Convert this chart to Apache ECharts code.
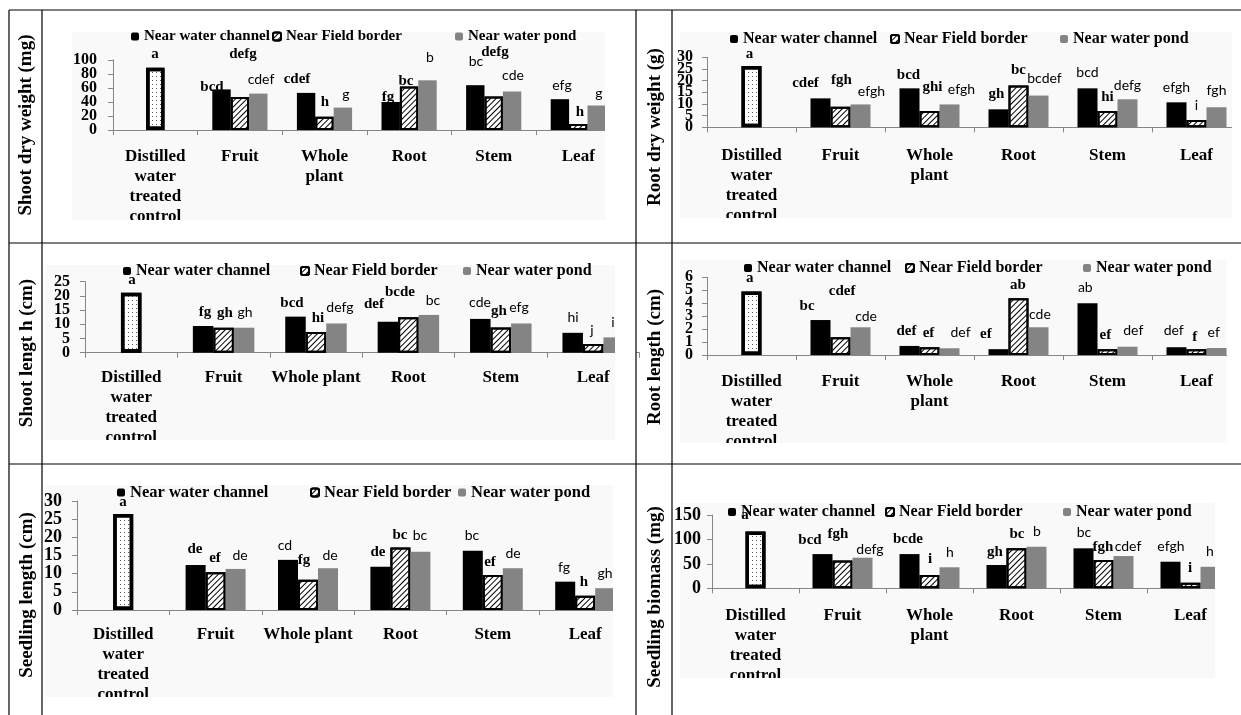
<!DOCTYPE html>
<html>
<head>
<meta charset="utf-8">
<script src="https://cdn.jsdelivr.net/npm/echarts@6/dist/echarts.min.js"></script>
<style>
  html, body { margin: 0; padding: 0; background: #fff; }
  #main { width: 1241px; height: 715px; }
</style>
</head>
<body>
<div id="main"></div>
<script>
// ---- categories and series names ----
const categoriesTwoLine = ['Distilled\nwater\ntreated\ncontrol', 'Fruit', 'Whole\nplant', 'Root', 'Stem', 'Leaf'];
const categoriesOneLine = ['Distilled\nwater\ntreated\ncontrol', 'Fruit', 'Whole plant', 'Root', 'Stem', 'Leaf'];
const seriesNames = ['Near water channel', 'Near Field border', 'Near water pond'];

// ---- Shoot dry weight (mg) ----
const shootDryTicks   = [0, 20, 40, 60, 80, 100];
const shootDryChannel = [null, 58, 53, 40, 64, 44];
const shootDryBorder  = [89, 47, 19, 62, 48, 8.5];
const shootDryPond    = [null, 52, 32, 71, 55, 35];
const shootDryChannelLetters = ['', 'bcd', 'cdef', 'fg', 'bc', 'efg'];
const shootDryBorderLetters  = ['a', 'defg', 'h', 'bc', 'defg', 'h'];
const shootDryPondLetters    = ['', 'cdef', 'g', 'b', 'cde', 'g'];

// ---- Root dry weight (g) ----
const rootDryTicks   = [0, 5, 10, 15, 20, 25, 30];
const rootDryChannel = [null, 12.4, 16.7, 7.7, 16.7, 10.7];
const rootDryBorder  = [26.3, 8.8, 7, 17.9, 7, 3.1];
const rootDryPond    = [null, 9.8, 9.8, 13.6, 12, 8.6];
const rootDryChannelLetters = ['', 'cdef', 'bcd', 'gh', 'bcd', 'efgh'];
const rootDryBorderLetters  = ['a', 'fgh', 'ghi', 'bc', 'hi', 'i'];
const rootDryPondLetters    = ['', 'efgh', 'efgh', 'bcdef', 'defg', 'fgh'];

// ---- Shoot length (cm) ----
const shootLenTicks   = [0, 5, 10, 15, 20, 25];
const shootLenChannel = [null, 9.4, 12.7, 10.9, 11.9, 7.0];
const shootLenBorder  = [21.1, 8.8, 7.3, 12.5, 8.9, 3.1];
const shootLenPond    = [null, 8.8, 10.3, 13.3, 10.3, 5.4];
const shootLenChannelLetters = ['', 'fg', 'bcd', 'def', 'cde', 'hi'];
const shootLenBorderLetters  = ['a', 'gh', 'hi', 'bcde', 'gh', 'j'];
const shootLenPondLetters    = ['', 'gh', 'defg', 'bc', 'efg', 'i'];

// ---- Root length (cm) ----
const rootLenTicks   = [0, 1, 2, 3, 4, 5, 6];
const rootLenChannel = [null, 2.7, 0.7, 0.45, 4.0, 0.6];
const rootLenBorder  = [4.9, 1.37, 0.6, 4.38, 0.45, 0.44];
const rootLenPond    = [null, 2.14, 0.52, 2.14, 0.64, 0.54];
const rootLenChannelLetters = ['', 'bc', 'def', 'ef', 'ab', 'def'];
const rootLenBorderLetters  = ['a', 'cdef', 'ef', 'ab', 'ef', 'f'];
const rootLenPondLetters    = ['', 'cde', 'def', 'cde', 'def', 'ef'];

// ---- Seedling length (cm) ----
const seedLenTicks   = [0, 5, 10, 15, 20, 25, 30];
const seedLenChannel = [null, 12.4, 13.8, 11.9, 16.3, 7.8];
const seedLenBorder  = [26.4, 10.4, 8.3, 17.2, 9.6, 3.9];
const seedLenPond    = [null, 11.3, 11.5, 16, 11.5, 6.0];
const seedLenChannelLetters = ['', 'de', 'cd', 'de', 'bc', 'fg'];
const seedLenBorderLetters  = ['a', 'ef', 'fg', 'bc', 'ef', 'h'];
const seedLenPondLetters    = ['', 'de', 'de', 'bc', 'de', 'gh'];

// ---- Seedling biomass (mg) ----
const biomassTicks   = [0, 50, 100, 150];
const biomassChannel = [null, 70, 70, 47.7, 81.8, 54.4];
const biomassBorder  = [116, 57, 27, 81.8, 58, 11.5];
const biomassPond    = [null, 62.6, 43, 85, 66, 44];
const biomassChannelLetters = ['', 'bcd', 'bcde', 'gh', 'bc', 'efgh'];
const biomassBorderLetters  = ['a', 'fgh', 'i', 'bc', 'fgh', 'i'];
const biomassPondLetters    = ['', 'defg', 'h', 'b', 'cdef', 'h'];

// ---- panel definitions (data references) ----
const panels = [
  { title: 'Shoot dry weight (mg)', cats: categoriesTwoLine, ticks: shootDryTicks,
    values: [shootDryChannel, shootDryBorder, shootDryPond],
    letters: [shootDryChannelLetters, shootDryBorderLetters, shootDryPondLetters] },
  { title: 'Root dry weight (g)', cats: categoriesTwoLine, ticks: rootDryTicks,
    values: [rootDryChannel, rootDryBorder, rootDryPond],
    letters: [rootDryChannelLetters, rootDryBorderLetters, rootDryPondLetters] },
  { title: 'Shoot lengt h (cm)', cats: categoriesOneLine, ticks: shootLenTicks,
    values: [shootLenChannel, shootLenBorder, shootLenPond],
    letters: [shootLenChannelLetters, shootLenBorderLetters, shootLenPondLetters] },
  { title: 'Root length (cm)', cats: categoriesTwoLine, ticks: rootLenTicks,
    values: [rootLenChannel, rootLenBorder, rootLenPond],
    letters: [rootLenChannelLetters, rootLenBorderLetters, rootLenPondLetters] },
  { title: 'Seedling length (cm)', cats: categoriesOneLine, ticks: seedLenTicks,
    values: [seedLenChannel, seedLenBorder, seedLenPond],
    letters: [seedLenChannelLetters, seedLenBorderLetters, seedLenPondLetters] },
  { title: 'Seedling biomass (mg)', cats: categoriesTwoLine, ticks: biomassTicks,
    values: [biomassChannel, biomassBorder, biomassPond],
    letters: [biomassChannelLetters, biomassBorderLetters, biomassPondLetters] }
];
panels.forEach(P => {
  P.yMax = P.ticks[P.ticks.length - 1];
  P.yStep = P.ticks[1] - P.ticks[0];
});

// ---- layout: plot rectangles, picture frames, table cells, titles, legends ----
const panelLayout = [
  { grid: { left: 113, top: 60, width: 507.6, height: 70 }, barW: 18.4, yFont: 16, yMargin: 16, xMargin: 17,
    frame: [72, 32, 605, 220], cell: [42, 10, 636, 243], title: [26, 125],
    legendFont: 15, legend: [[131, 38], [272, 38], [455, 38]] },
  { grid: { left: 707, top: 57.3, width: 540, height: 70 }, barW: 20, yFont: 16, yMargin: 14, xMargin: 18,
    frame: [680, 32, 1232, 218], cell: [672, 10, 1241, 243], title: [655, 127],
    legendFont: 16, legend: [[730, 40], [890, 40], [1060, 40]] },
  { grid: { left: 85, top: 281.7, width: 554.4, height: 71 }, barW: 20.5, yFont: 16, yMargin: 15, xMargin: 15,
    frame: [45, 265, 615, 440], cell: [42, 243, 636, 464], title: [27, 353],
    legendFont: 16, legend: [[123, 272], [300, 272], [463, 272]] },
  { grid: { left: 707, top: 277.3, width: 537.6, height: 77.7 }, barW: 20, yFont: 16, yMargin: 14, xMargin: 17,
    frame: [680, 260, 1227, 443], cell: [672, 243, 1241, 464], title: [655, 357],
    legendFont: 16, legend: [[744, 269], [905, 269], [1083, 269]] },
  { grid: { left: 77, top: 501, width: 554.4, height: 109 }, barW: 20, yFont: 18, yMargin: 15, xMargin: 15,
    frame: [45, 485, 613, 697], cell: [42, 464, 636, 715], title: [27, 595],
    legendFont: 16.5, legend: [[117, 493], [310, 493], [458, 493]] },
  { grid: { left: 712, top: 515, width: 522, height: 73.3 }, barW: 20, yFont: 18, yMargin: 11, xMargin: 17,
    frame: [680, 503, 1215, 678], cell: [672, 464, 1241, 715], title: [655, 597],
    legendFont: 16, legend: [[728, 513], [885, 513], [1063, 513]] }
];

// where each significance letter sits (page pixels), per panel / series / category
const letterSpots = [
  [[null, [212, 87], [297, 79], [388, 97], [476, 61], [562, 85]],
   [[155, 54], [243, 54], [325, 102], [406, 81], [495, 52], [580, 112]],
   [null, [261, 79], [346, 94], [430, 57], [513, 75], [599, 93]]],
  [[null, [807, 83], [911, 75], [1000, 94], [1092, 72], [1182, 87]],
   [[750, 54], [843, 80], [935, 87], [1022, 70], [1112, 97], [1202, 105]],
   [null, [873, 91], [964, 89], [1048, 78], [1132, 85], [1222, 90]]],
  [[null, [205, 312], [292, 303], [374, 304], [480, 302], [573, 317]],
   [[132, 280], [225, 313], [318, 318], [400, 292], [499, 311], [592, 330]],
   [null, [245, 312], [340, 307], [433, 300], [519, 307], [613, 322]]],
  [[null, [808, 306], [908, 331], [988, 334], [1088, 287], [1177, 330]],
   [[750, 278], [843, 291], [930, 333], [1020, 285], [1108, 335], [1198, 337]],
   [null, [867, 316], [962, 332], [1042, 314], [1136, 330], [1217, 332]]],
  [[null, [195, 549], [285, 545], [378, 552], [472, 535], [564, 567]],
   [[123, 502], [215, 558], [304, 560], [400, 535], [490, 562], [584, 582]],
   [null, [240, 555], [330, 555], [420, 535], [513, 553], [605, 573]]],
  [[null, [810, 540], [908, 539], [995, 552], [1084, 532], [1171, 546]],
   [[745, 515], [838, 534], [930, 559], [1017, 534], [1103, 547], [1190, 568]],
   [null, [870, 549], [950, 552], [1037, 531], [1128, 546], [1210, 551]]]
];
// typeface of each letter: T = bold serif, C = plain sans
const letterFaces = [
  ['-TTTCC', 'TTTTTT', '-CCCCC'],
  ['-TTTCC', 'TTTTTC', '-CCCCC'],
  ['-TTTCC', 'TTTTTC', '-CCCCC'],
  ['-TTTCC', 'TTTTTT', '-CCCCC'],
  ['-TCTCC', 'TTTTTT', '-CCCCC'],
  ['-TTTCC', 'TTTTTT', '-CCCCC']
];

const SERIF = "'Liberation Serif','Times New Roman',serif";
const SANS = "Lato,'Liberation Sans',sans-serif";
const AXIS_GREY = '#868686';

const hatch = { symbol: 'rect', symbolSize: 1, color: '#000', dashArrayX: [1, 0], dashArrayY: [1, 3], rotation: -Math.PI / 4 };
const dots = { symbol: 'rect', symbolSize: 1, color: '#555', dashArrayX: [1, 3], dashArrayY: [1, 3] };

const seriesStyles = [
  { color: '#000' },
  { color: '#fff', borderColor: '#000', borderWidth: 2, decal: hatch },
  { color: '#848484' }
];
const controlStyle = { color: '#fff', borderColor: '#000', borderWidth: 3.5, decal: dots };

function letterLabel(p, s, c, v) {
  const text = panels[p].letters[s][c];
  if (!text || v == null) return { show: false };
  const L = panelLayout[p];
  const g = L.grid;
  const serif = letterFaces[p][s][c] === 'T';
  const fs = serif ? 15 : 14;
  const bx = g.left + (c + 0.5) * g.width / 6 + (s - 1) * L.barW;
  const topY = g.top + g.height * (1 - v / panels[p].yMax);
  const spot = letterSpots[p][s][c];
  return {
    show: true, position: 'top', distance: 5, formatter: text,
    offset: [spot[0] - bx, spot[1] - (topY - 5 - fs / 2)],
    fontFamily: serif ? SERIF : SANS, fontWeight: serif ? 'bold' : 'normal',
    fontSize: fs, color: '#000'
  };
}

const grids = [], xAxes = [], yAxes = [], series = [], legends = [], graphics = [];

panels.forEach((P, i) => {
  const L = panelLayout[i];
  grids.push(Object.assign({ containLabel: false }, L.grid));
  xAxes.push({
    type: 'category', gridIndex: i, data: P.cats,
    axisLine: { show: true, lineStyle: { color: AXIS_GREY, width: 1 } },
    axisTick: { show: true, alignWithLabel: false, length: 5, lineStyle: { color: AXIS_GREY } },
    axisLabel: { interval: 0, margin: L.xMargin, fontFamily: SERIF, fontWeight: 'bold',
                 fontSize: 17, lineHeight: 20, color: '#000', hideOverlap: false },
    splitLine: { show: false }
  });
  // tick values are written beside the axis below, so that none of the crowded ones get dropped
  yAxes.push({
    type: 'value', gridIndex: i, min: 0, max: P.yMax, interval: P.yStep,
    axisLine: { show: true, lineStyle: { color: AXIS_GREY, width: 1 } },
    axisTick: { show: true, length: 5, lineStyle: { color: AXIS_GREY } },
    axisLabel: { show: false },
    splitLine: { show: false }
  });
  for (let s = 0; s < 3; s++) {
    series.push({
      type: 'bar', name: seriesNames[s], xAxisIndex: i, yAxisIndex: i,
      barWidth: L.barW, barGap: '0%', barCategoryGap: '0%',
      itemStyle: seriesStyles[s],
      animation: false,
      data: P.values[s].map((v, c) => {
        const item = { value: v, label: letterLabel(i, s, c, v) };
        if (s === 1 && c === 0) item.itemStyle = controlStyle;
        return item;
      })
    });
    legends.push({
      data: [seriesNames[s]], left: L.legend[s][0], top: L.legend[s][1] - 9,
      padding: 0, itemWidth: 8, itemHeight: 8, selectedMode: false,
      textStyle: { fontFamily: SERIF, fontWeight: 'bold', fontSize: L.legendFont, color: '#000' }
    });
  }
  const [fx0, fy0, fx1, fy1] = L.frame;
  const [cx0, cy0, cx1, cy1] = L.cell;
  // faint picture background
  graphics.push({ type: 'rect', z: -10, shape: { x: fx0, y: fy0, width: fx1 - fx0, height: fy1 - fy0 },
                  style: { fill: '#f9f9f9' } });
  // trim whatever spills past the picture frame
  graphics.push({ type: 'rect', z: 50, shape: { x: fx1, y: cy0 + 1, width: cx1 - fx1, height: cy1 - cy0 - 1 },
                  style: { fill: '#fff' } });
  graphics.push({ type: 'rect', z: 50, shape: { x: cx0 + 1, y: fy1, width: cx1 - cx0 - 1, height: cy1 - fy1 },
                  style: { fill: '#fff' } });
  // rotated y-axis title in its own table cell
  graphics.push({ type: 'text', z: 60, x: L.title[0], y: L.title[1], rotation: Math.PI / 2,
                  style: { text: P.title, font: "bold 19px 'Liberation Serif','Times New Roman',serif",
                           fill: '#000', textAlign: 'center', textVerticalAlign: 'middle' } });
});

// table rules
const ruleStyle = { stroke: '#000', lineWidth: 1.2 };
[[9, 10, 1241, 10], [9, 243, 1241, 243], [9, 464, 1241, 464],
 [9, 10, 9, 715], [42, 10, 42, 715], [636, 10, 636, 715], [672, 10, 672, 715]].forEach(r => {
  graphics.push({ type: 'line', z: 70, shape: { x1: r[0], y1: r[1], x2: r[2], y2: r[3] }, style: ruleStyle });
});

const chart = echarts.init(document.getElementById('main'), null, { renderer: 'canvas' });
chart.setOption({
  animation: false,
  backgroundColor: '#fff',
  textStyle: { fontFamily: SERIF },
  grid: grids, xAxis: xAxes, yAxis: yAxes, series: series,
  legend: legends, graphic: graphics, tooltip: { show: false }
});

// value-axis tick labels, placed with each axis's own scale
panels.forEach((P, i) => {
  const L = panelLayout[i];
  P.ticks.forEach(v => {
    const y = chart.convertToPixel({ yAxisIndex: i }, v);
    graphics.push({ type: 'text', z: 40, x: L.grid.left - L.yMargin, y: y,
                    style: { text: String(v), font: 'bold ' + L.yFont + "px 'Liberation Serif','Times New Roman',serif",
                             fill: '#000', textAlign: 'right', textVerticalAlign: 'middle' } });
  });
});
chart.setOption({ graphic: graphics });
</script>
</body>
</html>
